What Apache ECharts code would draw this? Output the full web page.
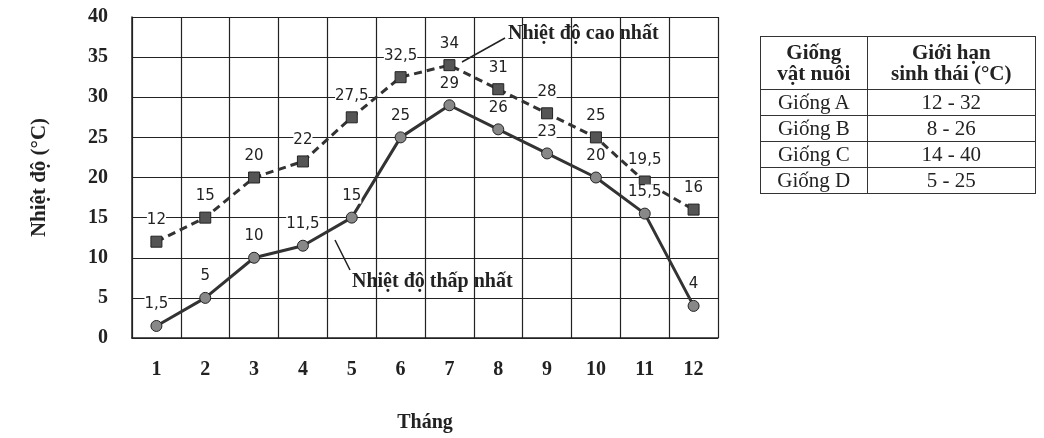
<!DOCTYPE html>
<html><head><meta charset="utf-8">
<script src="https://cdn.jsdelivr.net/npm/echarts@6/dist/echarts.min.js"></script>
<style>
body{margin:0;background:#fff;}
#chart{position:absolute;left:0;top:0;width:1044px;height:438px;}
table{position:absolute;left:760px;top:36px;width:276px;border-collapse:collapse;font-family:"Liberation Serif",serif;font-size:21px;color:#222;}
td,th{border:1.5px solid #333;text-align:center;padding:0 4px;height:25px;line-height:21px;}
th{font-weight:bold;height:52px;}
</style></head><body>
<div id="chart"></div>
<table id="tbl"></table>
<script>
const months = ['1','2','3','4','5','6','7','8','9','10','11','12'];
const maxTemp = [12, 15, 20, 22, 27.5, 32.5, 34, 31, 28, 25, 19.5, 16];
const minTemp = [1.5, 5, 10, 11.5, 15, 25, 29, 26, 23, 20, 15.5, 4];
const breeds = ['Giống A', 'Giống B', 'Giống C', 'Giống D'];
const limits = ['12 - 32', '8 - 26', '14 - 40', '5 - 25'];

document.getElementById('tbl').innerHTML =
    '<tr><th>Giống<br>vật nuôi</th><th>Giới hạn<br>sinh thái (°C)</th></tr>' +
    breeds.map((b, i) => `<tr><td>${b}</td><td>${limits[i]}</td></tr>`).join('');

const fmtLbl = p => String(p.value).replace('.', ',');
const chart = echarts.init(document.getElementById('chart'));
chart.setOption({
    animation: false,
    grid: { left: 132, right: 326, top: 17, bottom: 97 },
    xAxis: {
        type: 'category', data: months, boundaryGap: true,
        name: 'Tháng', nameLocation: 'middle', nameGap: 75,
        nameTextStyle: { fontFamily: 'Liberation Serif', fontWeight: 'bold', fontSize: 20, color: '#222' },
        axisLine: { lineStyle: { color: '#222', width: 1.5 } },
        axisTick: { show: false },
        axisLabel: { fontFamily: 'Liberation Serif', fontWeight: 'bold', fontSize: 20, color: '#222', margin: 22 },
        splitLine: { show: true, lineStyle: { color: '#222', width: 1.2 } }
    },
    yAxis: {
        type: 'value', min: 0, max: 40, interval: 5,
        name: 'Nhiệt độ (°C)', nameLocation: 'middle', nameGap: 82, nameRotate: 90,
        nameTextStyle: { fontFamily: 'Liberation Serif', fontWeight: 'bold', fontSize: 21, color: '#222' },
        axisLine: { show: true, lineStyle: { color: '#222', width: 1.5 } },
        axisTick: { show: false },
        axisLabel: { fontFamily: 'Liberation Serif', fontWeight: 'bold', fontSize: 20, color: '#222', margin: 24 },
        splitLine: { lineStyle: { color: '#222', width: 1.2 } }
    },
    series: [
        {
            type: 'line', data: maxTemp, symbol: 'rect', symbolSize: 11,
            lineStyle: { color: '#333', width: 3, type: [8, 5] },
            itemStyle: { color: '#555', borderColor: '#222', borderWidth: 1 },
            label: { show: true, position: 'top', distance: 8, formatter: fmtLbl, fontSize: 15, color: '#222', backgroundColor: '#fff', fontFamily: 'DejaVu Sans' }
        },
        {
            type: 'line', data: minTemp, symbol: 'circle', symbolSize: 11,
            lineStyle: { color: '#333', width: 3 },
            itemStyle: { color: '#888', borderColor: '#222', borderWidth: 1 },
            label: { show: true, position: 'top', distance: 8, formatter: fmtLbl, fontSize: 15, color: '#222', backgroundColor: '#fff', fontFamily: 'DejaVu Sans' }
        }
    ],
    graphic: [
        { type: 'text', left: 508, top: 24, style: { text: 'Nhiệt độ cao nhất', font: 'bold 20px "Liberation Serif"', fill: '#222', backgroundColor: '#fff' } },
        { type: 'line', shape: { x1: 505, y1: 38, x2: 462, y2: 62 }, style: { stroke: '#222', lineWidth: 1.5 } },
        { type: 'text', left: 352, top: 272, style: { text: 'Nhiệt độ thấp nhất', font: 'bold 20px "Liberation Serif"', fill: '#222', backgroundColor: '#fff' } },
        { type: 'line', shape: { x1: 350, y1: 270, x2: 335, y2: 240 }, style: { stroke: '#222', lineWidth: 1.5 } }
    ]
});
</script>
</body></html>
